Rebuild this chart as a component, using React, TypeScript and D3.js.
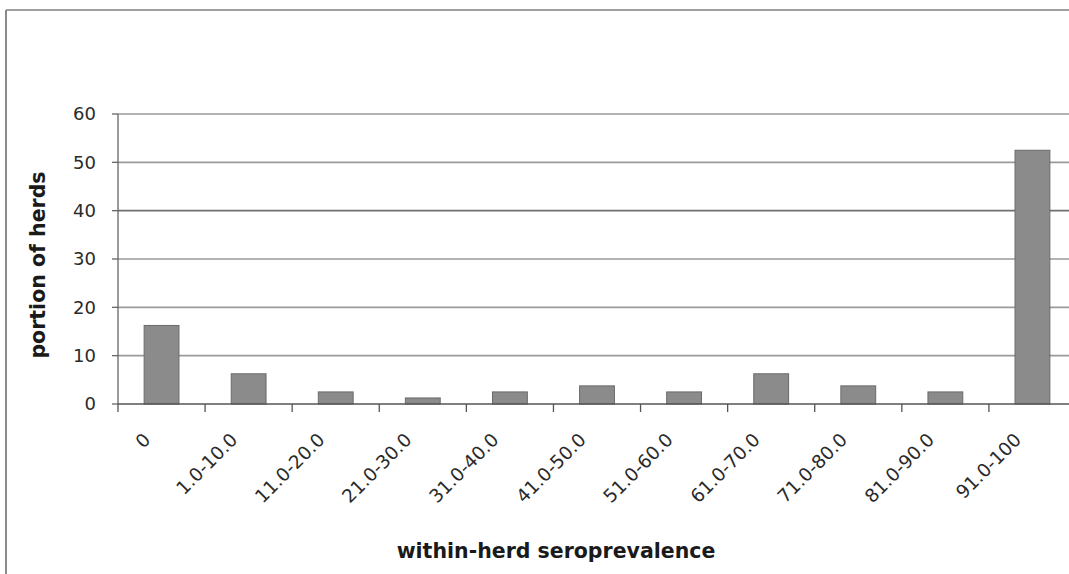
import React from "react";
import * as d3 from "d3";

const categories = ["0", "1.0-10.0", "11.0-20.0", "21.0-30.0", "31.0-40.0", "41.0-50.0", "51.0-60.0", "61.0-70.0", "71.0-80.0", "81.0-90.0", "91.0-100"];
const values = [16.25, 6.25, 2.5, 1.25, 2.5, 3.75, 2.5, 6.25, 3.75, 2.5, 52.5];
const yTicks = [0, 10, 20, 30, 40, 50, 60];
const yTitle = "portion of herds";
const xTitle = "within-herd seroprevalence";

export default function App() {
  const W = 1069, H = 574;
  const x = d3.scaleBand<string>().domain(categories).range([118, 1076]).paddingInner(0.6).paddingOuter(0.3);
  const y = d3.scaleLinear().domain([0, 60]).range([404, 114]);
  const step = x.step();
  const x0 = x.range()[0];
  const font = "'DejaVu Sans', Verdana, sans-serif";
  return (
    <svg width={W} height={H} style={{ position: "absolute", left: 0, top: 0 }} fontFamily={font}>
      <rect x={0} y={0} width={W} height={H} fill="#fff" />
      {/* outer frame */}
      <line x1={6} y1={10} x2={W} y2={10} stroke="#a0a0a0" strokeWidth={2} />
      <line x1={6} y1={10} x2={6} y2={H} stroke="#8a8a8a" strokeWidth={2} />
      {/* gridlines */}
      {yTicks.filter(t => t > 0).map(t => (
        <line key={t} x1={x0} x2={W} y1={y(t)} y2={y(t)} stroke={t === 40 ? "#6f6f6f" : "#9a9a9a"} strokeWidth={1.6} />
      ))}
      {/* y axis */}
      <line x1={x0} x2={x0} y1={y(60)} y2={y(0)} stroke="#666" strokeWidth={1.3} />
      {yTicks.map(t => (
        <g key={t}>
          <line x1={x0 - 6} x2={x0} y1={y(t)} y2={y(t)} stroke="#666" strokeWidth={1.3} />
          <text x={96} y={y(t)} dy="0.36em" textAnchor="end" fontSize={18} fill="#2a2a2a">{t}</text>
        </g>
      ))}
      {/* bars */}
      {categories.map((c, i) => (
        <rect key={c} x={x(c)!} y={y(values[i])} width={x.bandwidth()} height={y(0) - y(values[i])}
          fill="#8b8b8b" stroke="#6a6a6a" strokeWidth={1} />
      ))}
      {/* x axis */}
      <line x1={x0} x2={W} y1={y(0)} y2={y(0)} stroke="#555" strokeWidth={1.5} />
      {categories.map((c, i) => (
        <line key={"t" + c} x1={x0 + i * step} x2={x0 + i * step} y1={y(0)} y2={y(0) + 8} stroke="#555" strokeWidth={1.3} />
      ))}
      {categories.map(c => {
        const cx = x(c)! + x.bandwidth() / 2 - 10;
        const cy = y(0) + 37;
        return (
          <text key={"l" + c} x={cx} y={cy} textAnchor="end" fontSize={18.5} fill="#2a2a2a"
            transform={`rotate(-45 ${cx} ${cy})`}>{c}</text>
        );
      })}
      <text x={556} y={558} textAnchor="middle" fontSize={20.5} fontWeight="bold" fill="#1a1a1a">{xTitle}</text>
      <text x={0} y={0} transform={`translate(45 265) rotate(-90)`} textAnchor="middle" fontSize={20.5} fontWeight="bold" fill="#1a1a1a">{yTitle}</text>
    </svg>
  );
}
